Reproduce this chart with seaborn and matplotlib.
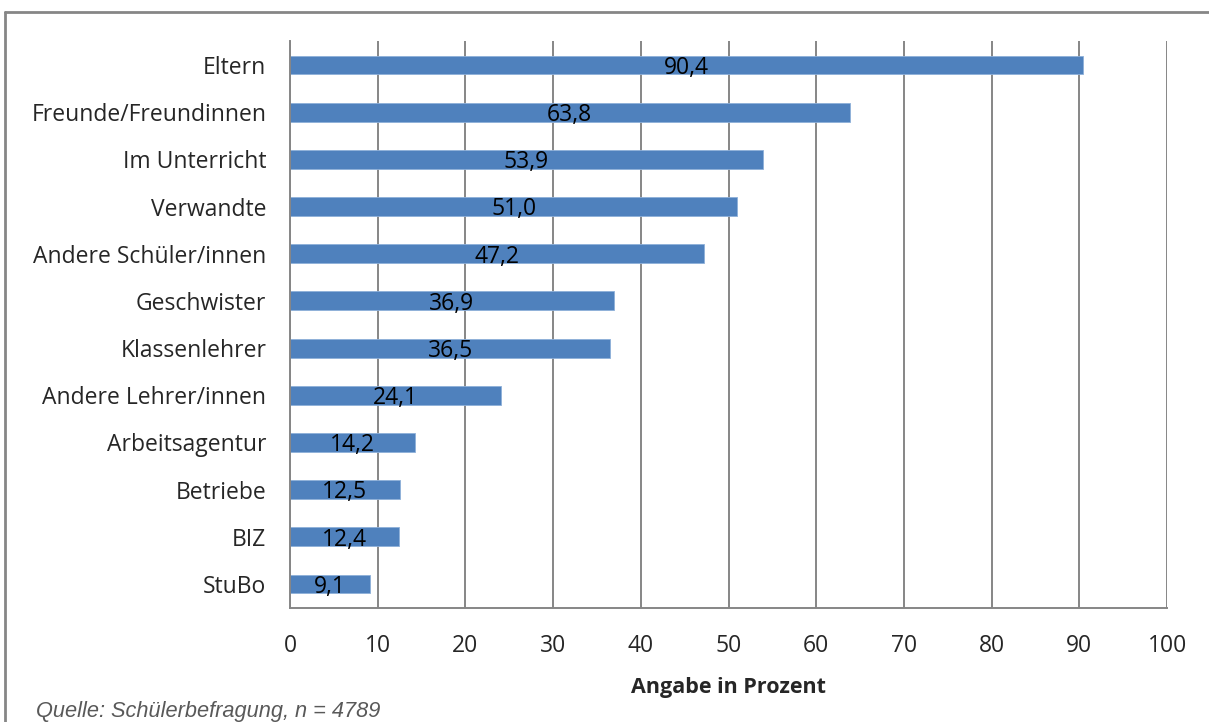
import pandas as pd
import matplotlib.pyplot as plt
import seaborn as sns
from matplotlib.lines import Line2D
from matplotlib.ticker import MultipleLocator, FixedLocator

# Werte aus der Grafik
kategorien = ["Eltern", "Freunde/Freundinnen", "Im Unterricht", "Verwandte",
              "Andere Schüler/innen", "Geschwister", "Klassenlehrer",
              "Andere Lehrer/innen", "Arbeitsagentur", "Betriebe", "BIZ", "StuBo"]
prozent = [90.4, 63.8, 53.9, 51.0, 47.2, 36.9, 36.5, 24.1, 14.2, 12.5, 12.4, 9.1]

df = pd.DataFrame({"kategorie": kategorien, "prozent": prozent})

sns.set_style("white")
plt.rcParams["font.family"] = ["Open Sans", "DejaVu Sans"]

grau = "#868686"
fig = plt.figure(figsize=(12.09, 7.22), dpi=100)
ax = fig.add_axes([0.2399, 0.1584, 0.7254, 0.7843])

sns.barplot(data=df, y="kategorie", x="prozent", orient="h", color="#4F81BD",
            saturation=1, width=0.4, edgecolor="#8EB0D9", linewidth=0.6, ax=ax)

# Datenbeschriftung mittig im Balken
for i, v in enumerate(prozent):
    ax.text(v / 2, i + 0.06, f"{v:.1f}".replace(".", ","), ha="center", va="center",
            fontsize=16.5, color="black")

ax.set_xlim(0, 100)
ax.set_ylim(len(kategorien) - 0.5, -0.5)
ax.xaxis.set_major_locator(MultipleLocator(10))
ax.set_axisbelow(True)
ax.grid(axis="x", color=grau, linewidth=1.4)
ax.grid(axis="y", visible=False)

for s in ["top", "right"]:
    ax.spines[s].set_visible(False)
for s in ["left", "bottom"]:
    ax.spines[s].set_color(grau)
    ax.spines[s].set_linewidth(1.4)

ax.tick_params(axis="x", direction="inout", length=14, width=1.4, color=grau,
               labelsize=16.5, pad=12)
ax.tick_params(axis="y", which="major", length=0, labelsize=16.5, pad=17)
ax.yaxis.set_minor_locator(FixedLocator([i - 0.5 for i in range(len(kategorien) + 1)]))
ax.tick_params(axis="y", which="minor", direction="out", length=6, width=1.4, color=grau)

ax.set_ylabel("")
ax.set_xlabel("Angabe in Prozent", fontsize=15.5, fontweight="bold", labelpad=14)

# Rahmen und Quelle
fig.add_artist(Line2D([0.004, 1.0], [0.983, 0.983], transform=fig.transFigure,
                      color=grau, linewidth=2))
fig.add_artist(Line2D([0.004, 0.004], [0.0, 0.983], transform=fig.transFigure,
                      color=grau, linewidth=2))
fig.text(0.03, 0.014, "Quelle: Schülerbefragung, n = 4789", fontsize=15.7,
         style="italic", family=["Liberation Sans", "DejaVu Sans"], color="#595959",
         va="center")

plt.savefig("out.png", dpi=100)
